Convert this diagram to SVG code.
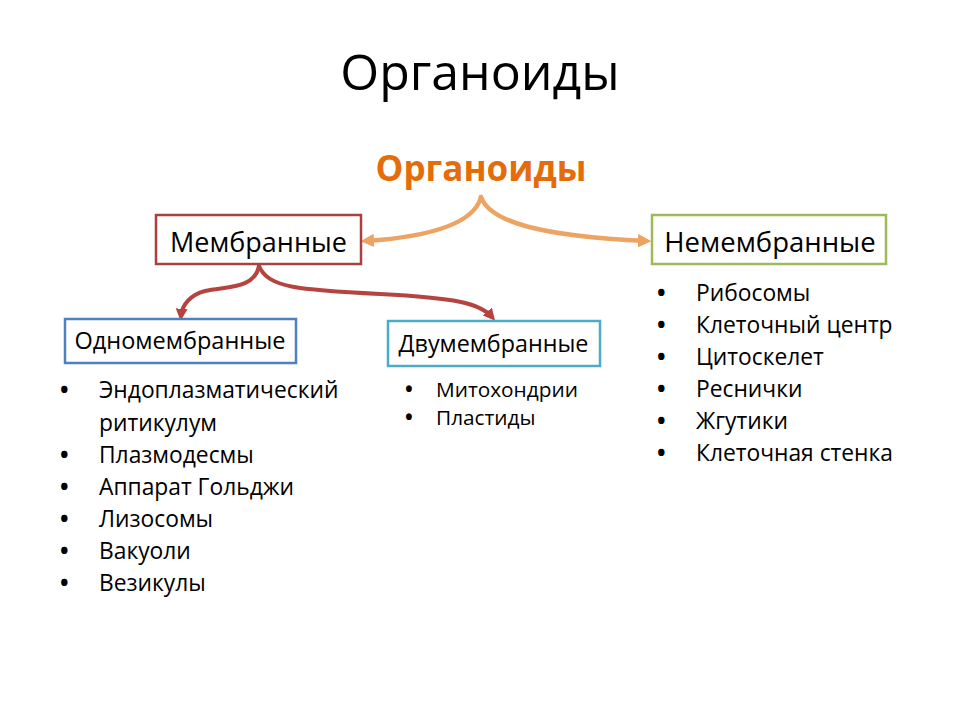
<svg xmlns="http://www.w3.org/2000/svg" width="960" height="720" viewBox="0 0 960 720">
<defs>
<style>
text{font-family:"Open Sans","Noto Sans","DejaVu Sans",sans-serif;fill:#000}
.box{fill:#fff;stroke-width:2.5}
.l{font-size:22.8px}
.m{font-size:20.8px}
.b{font-weight:bold}
.orange{fill:none;stroke:#EDA462;stroke-width:4.5;stroke-linecap:round}
.red{fill:none;stroke:#B5443F;stroke-width:4;stroke-linecap:round}
</style>
<marker id="ao" viewBox="0 0 10 10" refX="6" refY="5" markerWidth="3" markerHeight="3" orient="auto-start-reverse" markerUnits="strokeWidth">
<path d="M0,0 L10,5 L0,10 Z" fill="#EDA462"/>
</marker>
<marker id="ar" viewBox="0 0 10 10" refX="6" refY="5" markerWidth="3" markerHeight="3" orient="auto" markerUnits="strokeWidth">
<path d="M0,0 L10,5 L0,10 Z" fill="#B5443F"/>
</marker>
</defs>
<rect width="960" height="720" fill="#fff"/>
<text x="480" y="90" text-anchor="middle" font-size="50">Органоиды</text>
<g id="root"><text x="481" y="181" text-anchor="middle" font-size="35" font-weight="bold" style="fill:#E46C0A">Органоиды</text></g>
<g id="connectors">
<path class="orange" d="M481,197 C475,220 440,236 366,241" marker-end="url(#ao)"/>
<path class="orange" d="M481,197 C490,222 540,236 646,241" marker-end="url(#ao)"/>
<path class="red" d="M259,266 C254,290 225,286 205,291 C190,295 182,305 181,316" marker-end="url(#ar)"/>
<path class="red" d="M259,266 C268,288 300,290 380,294 C455,298 480,303 492,317" marker-end="url(#ar)"/>
</g>
<g id="membr"><rect class="box" x="156" y="215" width="205" height="49" stroke="#A8423F"/><text x="258.5" y="252" text-anchor="middle" font-size="27">Мембранные</text></g>
<g id="nemembr"><rect class="box" x="652" y="215" width="234" height="49" stroke="#9BBB59"/><text x="770" y="252" text-anchor="middle" font-size="27.5">Немембранные</text></g>
<g id="odno"><rect class="box" x="65" y="319" width="231" height="44" stroke="#4F81BD"/><text x="180" y="349" text-anchor="middle" font-size="23.5">Одномембранные</text></g>
<g id="dvu"><rect class="box" x="388" y="321" width="212" height="45" stroke="#4BACC6"/><text x="493.5" y="352" text-anchor="middle" font-size="23.3">Двумембранные</text></g>
<g id="list-odno" class="l">
<text class="b" x="60" y="398">•</text><text x="99" y="398">Эндоплазматический</text>
<text x="99" y="431">ритикулум</text>
<text class="b" x="60" y="463">•</text><text x="99" y="463">Плазмодесмы</text>
<text class="b" x="60" y="495">•</text><text x="99" y="495">Аппарат Гольджи</text>
<text class="b" x="60" y="527">•</text><text x="99" y="527">Лизосомы</text>
<text class="b" x="60" y="559">•</text><text x="99" y="559">Вакуоли</text>
<text class="b" x="60" y="591">•</text><text x="99" y="591">Везикулы</text>
</g>
<g id="list-dvu" class="m">
<text class="b" x="405" y="397">•</text><text x="436" y="397">Митохондрии</text>
<text class="b" x="405" y="425">•</text><text x="436" y="425">Пластиды</text>
</g>
<g id="list-nemembr" class="l">
<text class="b" x="657" y="301">•</text><text x="696" y="301">Рибосомы</text>
<text class="b" x="657" y="333">•</text><text x="696" y="333">Клеточный центр</text>
<text class="b" x="657" y="365">•</text><text x="696" y="365">Цитоскелет</text>
<text class="b" x="657" y="397">•</text><text x="696" y="397">Реснички</text>
<text class="b" x="657" y="429">•</text><text x="696" y="429">Жгутики</text>
<text class="b" x="657" y="461">•</text><text x="696" y="461">Клеточная стенка</text>
</g>
</svg>
